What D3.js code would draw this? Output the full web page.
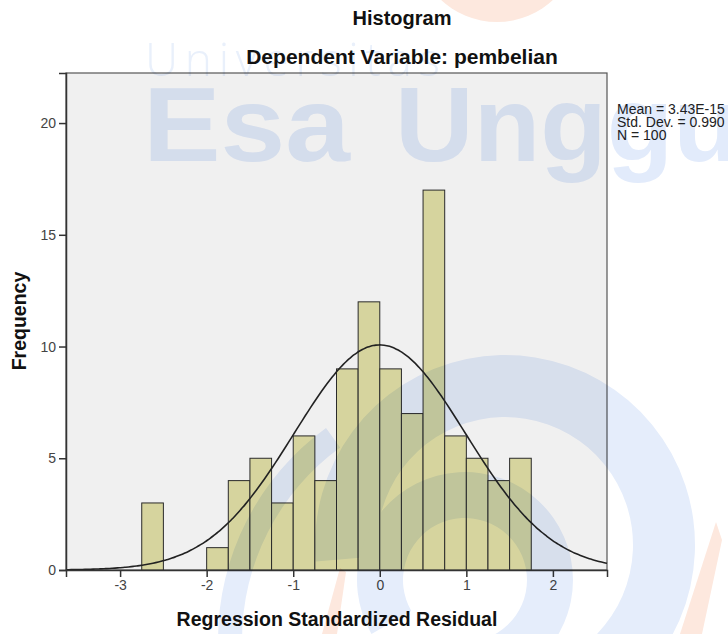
<!DOCTYPE html>
<html>
<head>
<meta charset="utf-8">
<title>Histogram</title>
<style>
	body { margin: 0; background: #fff; }
	svg { display: block; font-family: "Liberation Sans", Arial, sans-serif; }
	.wm { mix-blend-mode: multiply; pointer-events: none; }
</style>
</head>
<body>
<svg width="728" height="634"></svg>
<script src="https://cdn.jsdelivr.net/npm/d3@7"></script>
<script>
// data
const binLow = [-2.75, -2.50, -2.25, -2.00, -1.75, -1.50, -1.25, -1.00, -0.75,
                -0.50, -0.25, 0.00, 0.25, 0.50, 0.75, 1.00, 1.25, 1.50]
const counts = [3, 0, 0, 1, 4, 5, 3, 6, 4, 9, 12, 9, 7, 17, 6, 5, 4, 5]
const binWidth = 0.25
const xTicks = [-3, -2, -1, 0, 1, 2]
const yTicks = [0, 5, 10, 15, 20]
const stats = ["Mean = 3.43E-15", "Std. Dev. = 0.990", "N = 100"]
const mean = 3.43e-15, sd = 0.990, n = 100

const svg = d3.select("svg")
const plot = { left: 66, right: 607, top: 73, bottom: 570 }

const x = d3.scaleLinear().domain([-3.625, 2.625]).range([plot.left, plot.right])
const y = d3.scaleLinear().domain([0, 22.24]).range([plot.bottom, plot.top])

// titles
svg.append("text").text("Histogram")
	.attr("x", 402).attr("y", 25).attr("text-anchor", "middle")
	.attr("font-size", 20).attr("font-weight", "bold").attr("fill", "#111")
svg.append("text").text("Dependent Variable: pembelian")
	.attr("x", 402).attr("y", 64).attr("text-anchor", "middle")
	.attr("font-size", 21).attr("font-weight", "bold").attr("fill", "#111")

// plot background
svg.append("rect")
	.attr("x", plot.left).attr("y", plot.top)
	.attr("width", plot.right - plot.left).attr("height", plot.bottom - plot.top)
	.attr("fill", "#f0f0f0").attr("stroke", "#555").attr("stroke-width", 1.2)

// bars
const bins = binLow.map((b, i) => ({ x0: b, x1: b + binWidth, c: counts[i] })).filter(d => d.c > 0)
svg.append("g").selectAll("rect").data(bins).join("rect")
	.attr("x", d => x(d.x0)).attr("width", d => x(d.x1) - x(d.x0))
	.attr("y", d => y(d.c)).attr("height", d => y(0) - y(d.c))
	.attr("fill", "#d6d49e").attr("stroke", "#2a2a2a").attr("stroke-width", 1)

// normal curve
const pdf = v => n * binWidth / (sd * Math.sqrt(2 * Math.PI)) * Math.exp(-0.5 * ((v - mean) / sd) ** 2)
const xs = d3.range(200).map(i => x.domain()[0] + i * (x.domain()[1] - x.domain()[0]) / 199)
svg.append("path").datum(xs)
	.attr("fill", "none").attr("stroke", "#222").attr("stroke-width", 1.6)
	.attr("d", d3.line().x(d => x(d)).y(d => y(pdf(d))).curve(d3.curveBasis))

// axes
const gy = svg.append("g").attr("transform", `translate(${plot.left},0)`)
	.call(d3.axisLeft(y).tickValues(yTicks).tickSize(7).tickPadding(3).tickFormat(d => String(d)))
const gx = svg.append("g").attr("transform", `translate(0,${plot.bottom})`)
	.call(d3.axisBottom(x).tickValues(xTicks).tickSize(7).tickPadding(3).tickFormat(d => String(d)))
for (const g of [gx, gy]) {
	g.select(".domain").attr("stroke", "#333").attr("stroke-width", 1.5)
	g.selectAll(".tick line").attr("stroke", "#333").attr("stroke-width", 1.5)
	g.selectAll(".tick text").attr("font-size", 14).attr("fill", "#444")
		.attr("font-family", "Liberation Sans, Arial, sans-serif")
}

// axis titles
svg.append("text").text("Regression Standardized Residual")
	.attr("x", 337).attr("y", 626).attr("text-anchor", "middle")
	.attr("font-size", 19.5).attr("font-weight", "bold").attr("fill", "#111")
svg.append("text").text("Frequency")
	.attr("transform", "translate(26,321) rotate(-90)").attr("text-anchor", "middle")
	.attr("font-size", 19.5).attr("font-weight", "bold").attr("fill", "#111")

// stats box
svg.append("g").selectAll("text").data(stats).join("text")
	.text(d => d).attr("x", 617).attr("y", (d, i) => 114 + i * 13)
	.attr("font-size", 14).attr("fill", "#222")

// watermark
const wm = svg.append("g").attr("class", "wm")
const blue = "#e5edfb", orange = "#fde8de"
wm.append("circle").attr("cx", 497).attr("cy", -60).attr("r", 82).attr("fill", orange)
wm.append("path").attr("fill", orange).attr("d", "M680,634L702,634L722,540L716,522Z")
wm.append("path").attr("fill", orange).attr("d", "M322,634L337,634L346,572L340,568Z")
const arc = d3.arc()
const rings = [
	{ cx: 505, cy: 545, r0: 128, r1: 190, a0: -95, a1: 155 },
	{ cx: 465, cy: 580, r0: 62, r1: 108, a0: -120, a1: 160 },
	{ cx: 480, cy: 640, r0: 238, r1: 262, a0: -90, a1: -36 }
]
rings.forEach(r => {
	wm.append("path").attr("fill", blue)
		.attr("transform", `translate(${r.cx},${r.cy})`)
		.attr("d", arc({ innerRadius: r.r0, outerRadius: r.r1,
			startAngle: r.a0 * Math.PI / 180, endAngle: r.a1 * Math.PI / 180 }))
})
wm.append("text").text("Universitas")
	.attr("x", 145).attr("y", 76).attr("font-family", "Open Sans, sans-serif")
	.attr("font-weight", 300).attr("font-size", 46).attr("fill", "#e9f0fb")
	.attr("textLength", 295).attr("lengthAdjust", "spacing")
wm.append("text").text("Esa")
	.attr("x", 143).attr("y", 161).attr("font-weight", "bold").attr("font-size", 105)
	.attr("fill", "#e2ebfb").attr("textLength", 207).attr("lengthAdjust", "spacingAndGlyphs")
wm.append("text").text("Unggul")
	.attr("x", 395).attr("y", 161).attr("font-weight", "bold").attr("font-size", 105)
	.attr("fill", "#e2ebfb").attr("textLength", 375).attr("lengthAdjust", "spacingAndGlyphs")
</script>
</body>
</html>
